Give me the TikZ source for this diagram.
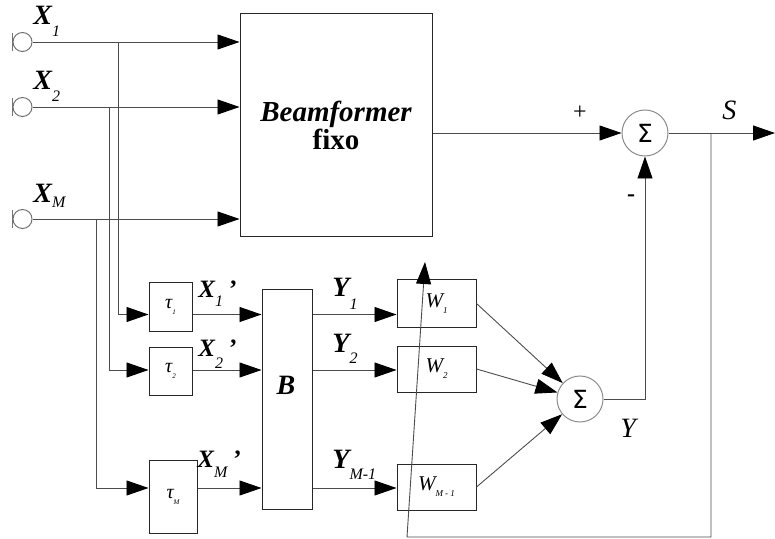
\documentclass[tikz,border=0pt]{standalone}
\usepackage{fontspec}
\setmainfont{Liberation Serif}
\newfontfamily\symfont{DejaVu Sans}
\usetikzlibrary{arrows.meta,calc,positioning}

% rotulos com indice
\newcommand{\biglab}[3]{{\fontsize{14}{14}\selectfont\bfseries\itshape #1}\raisebox{-#3}{\fontsize{8}{8}\selectfont\itshape #2}}
\newcommand{\primelab}[2]{{\fontsize{12.5}{12.5}\selectfont\bfseries\itshape X}\raisebox{-#2}{\fontsize{8}{8}\selectfont\itshape #1}\kern3pt{\fontsize{12.5}{12.5}\selectfont\bfseries ’}}
\newcommand{\wlab}[1]{{\fontsize{10.5}{10.5}\selectfont\itshape W}\raisebox{-3pt}{\fontsize{4.5}{4.5}\selectfont\itshape #1}}
\newcommand{\taulab}[1]{{\fontsize{10}{10}\selectfont\itshape τ}\raisebox{-3pt}{\fontsize{3.5}{3.5}\selectfont\itshape #1}}

\tikzset{
	blk/.style={draw=black!85, line width=0.5pt, inner sep=0pt},
	sumnode/.style={circle, draw=black!45, line width=0.5pt, minimum size=23pt, inner sep=0pt, font={\symfont\fontsize{12.5}{12.5}\selectfont}},
	port/.style={circle, draw=black!55, line width=0.5pt, minimum size=9.5pt, inner sep=0pt},
	wire/.style={draw=black!70, line width=0.45pt},
	lbl/.style={anchor=base west, inner sep=0pt}
}

\begin{document}
\begin{tikzpicture}[x=0.5pt, y=-0.5pt, >={Triangle[length=11pt,width=7.5pt,black]}]
	\useasboundingbox (0,0) rectangle (775,539);

	% entradas
	\node[port] (in1) at (22.5,42) {};
	\node[port] (in2) at (22.5,107) {};
	\node[port] (inM) at (22.5,219) {};
	\foreach \i in {1,2,M}
		\draw[black!55, line width=0.5pt] (in\i.west) ++(0,-9) -- ++(0,18);

	\node[lbl] (lx1) at (33,25) {\biglab{X}{1}{6pt}};
	\node[lbl] (lx2) at (33,90) {\biglab{X}{2}{6pt}};
	\node[lbl] (lxM) at (33,203) {\biglab{X}{M}{2.5pt}};

	% blocos
	\node[blk, minimum width=96pt, minimum height=111.5pt, align=center] (bf) at (336,125.5)
		{{\fontsize{14.5}{16}\selectfont\bfseries\itshape Beamformer}\\[-0.5pt]{\fontsize{14.5}{16}\selectfont\bfseries fixo}};
	\node[sumnode] (sum1) at (645,133) {Σ};

	\node[blk, minimum width=21.5pt, minimum height=24pt] (tau1) at (170.5,307) {\taulab{1}};
	\node[blk, minimum width=21.5pt, minimum height=24pt] (tau2) at (170.5,371) {\taulab{2}};
	\node[blk, minimum width=24pt, minimum height=36.5pt] (tauM) at (173,496.5) {\taulab{M}};

	\node[blk, minimum width=25pt, minimum height=109.5pt] (B) at (287,399.5) {};
	\node[inner sep=0pt, font={\fontsize{14}{14}\selectfont\bfseries\itshape}] (lB) at (286,385) {B};

	\node[blk, minimum width=39.5pt, minimum height=23.5pt] (W1) at (436.5,303.5) {\wlab{1}};
	\node[blk, minimum width=39.5pt, minimum height=23pt] (W2) at (436.5,369) {\wlab{2}};
	\node[blk, minimum width=39.5pt, minimum height=23pt] (WM) at (436.5,487) {\wlab{M - 1}};

	\node[sumnode] (sum2) at (580,399) {Σ};

	% linhas de referencia
	\coordinate (r1) at (0,314.5);
	\coordinate (r2) at (0,370);
	\coordinate (rM) at (0,488);
	\coordinate (tap1) at (118,42);
	\coordinate (tap2) at (109,107);
	\coordinate (tapM) at (96,219);

	% entradas -> beamformer e atrasos
	\foreach \i in {1,2,M}
		\draw[wire,->] (in\i.east) -- (in\i.east -| bf.west);
	\draw[wire,->] (tap1) |- (tau1.west |- r1);
	\draw[wire,->] (tap2) |- (tau2.west |- r2);
	\draw[wire,->] (tapM) |- (tauM.west |- rM);

	% atrasos -> B -> pesos
	\draw[wire,->] (tau1.east |- r1) -- (B.west |- r1);
	\draw[wire,->] (tau2.east |- r2) -- (B.west |- r2);
	\draw[wire,->] (tauM.east |- rM) -- (B.west |- rM);
	\draw[wire,->] (B.east |- r1) -- (W1.west |- r1);
	\draw[wire,->] (B.east |- r2) -- (W2.west |- r2);
	\draw[wire,->] (B.east |- rM) -- (WM.west |- rM);

	\node[lbl] (lx1p) at (198,298) {\primelab{1}{4.5pt}};
	\node[lbl] (lx2p) at (198,356) {\primelab{2}{6pt}};
	\node[lbl] (lxMp) at (197,467) {\primelab{M}{5pt}};
	\node[lbl] (ly1) at (332,297) {\biglab{Y}{1}{6pt}};
	\node[lbl] (ly2) at (332,352) {\biglab{Y}{2}{5.5pt}};
	\node[lbl] (lyM) at (332,468) {\biglab{Y}{M-1}{5.5pt}};

	% pesos -> soma
	\draw[wire,->] (W1.east) -- (sum2);
	\draw[wire,->] (W2.east) -- (sum2);
	\draw[wire,->] (WM.east) -- (sum2);
	\draw[wire,->] (sum2.east) -| (sum1.south);
	\draw[wire,->] (bf.east |- sum1) -- (sum1.west);

	% saida e realimentacao
	\coordinate (out) at (775,133);
	\coordinate (fbtap) at (711,133);
	\coordinate (fbcorner) at (711,537);
	\coordinate (fbbase) at (407,537);
	\coordinate (fbtip) at (425,262);
	\draw[wire,->] (sum1.east) -- (out);
	\draw[wire,->] (fbtap) -- (fbcorner) -- (fbbase) -- (fbtip);

	\node[inner sep=0pt, font={\fontsize{12}{12}\selectfont}] (plus) at (580,113) {+};
	\node[inner sep=0pt, font={\fontsize{12}{12}\selectfont\bfseries}] (minus) at (631,198) {-};
	\node[lbl, font={\fontsize{14}{14}\selectfont\itshape}] (ls) at (722,120) {S};
	\node[lbl, font={\fontsize{14}{14}\selectfont\itshape}] (ly) at (620,437) {Y};
\end{tikzpicture}
\end{document}
